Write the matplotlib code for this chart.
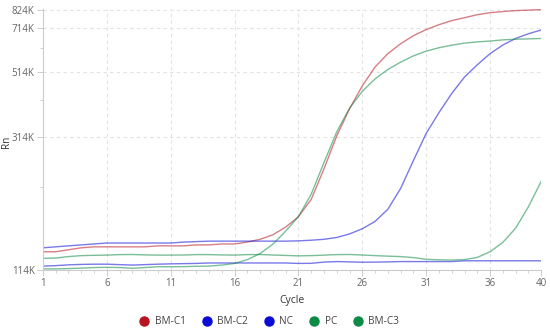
import numpy as np
import matplotlib.pyplot as plt
from matplotlib.ticker import FixedLocator, NullFormatter
from matplotlib.lines import Line2D

plt.rcParams['font.family'] = ['Open Sans', 'DejaVu Sans']

cycles = np.arange(1, 41)

# Rn values in thousands
bm_c1 = [131, 131, 133, 135, 136, 136, 136, 136, 136, 137,
         137, 137, 138, 138, 139, 139, 141, 144, 149, 158,
         171, 195, 246, 316, 388, 462, 533, 590, 636, 676,
         708, 735, 758, 775, 793, 805, 812, 818, 821, 824]
bm_c2 = [135, 136, 137, 138, 139, 140, 140, 140, 140, 140,
         140, 141, 141.5, 142, 142, 142, 142, 142, 142, 142,
         142.3, 143, 144, 146, 150, 156, 165, 181, 212, 262,
         322, 377, 436, 494, 542, 590, 630, 662, 686, 706]
nc = [117.5, 117.9, 118.6, 119, 119.2, 119.2, 118.8, 118.4, 118.8, 119.2,
      119.5, 119.7, 119.9, 120.3, 120.3, 120.3, 120.3, 120.3, 120.3, 120.3,
      119.9, 120.0, 121.1, 121.6, 121.3, 121.0, 121.1, 121.3, 121.6, 121.6,
      121.6, 121.6, 121.6, 122.3, 122.3, 122.3, 122.3, 122.3, 122.3, 122.3]
pc = [115, 115, 115.3, 115.7, 116.2, 116.4, 116.2, 115.5, 116.2, 116.9,
      116.9, 117, 117.3, 117.5, 118.4, 119.9, 123.4, 129.2, 138.8, 153.2,
      171, 203, 258, 326, 390, 443, 487, 523, 553, 580,
      601, 617, 629, 639, 645, 649, 655, 658, 660, 662]
bm_c3 = [124.6, 124.9, 126.3, 127.2, 127.5, 127.7, 128.2, 128.3, 127.9, 127.7,
         127.7, 127.8, 128.2, 128.2, 127.9, 127.7, 128.2, 128.3, 127.8, 127.4,
         127.0, 127.2, 127.7, 128.2, 128.3, 127.8, 127.2, 126.7, 126.3, 125.3,
         123.7, 123.2, 123.0, 123.4, 125.5, 131.0, 140.7, 156.7, 184.4, 223.7]

names = ['BM-C1', 'BM-C2', 'NC', 'PC', 'BM-C3']
series = [bm_c1, bm_c2, nc, pc, bm_c3]
colors = ['#b8141f', '#0b0bd8', '#0b0bd8', '#0d8a45', '#0d8a45']

y_ticks = [114, 314, 514, 714, 824]
y_minor = [214, 414, 614]
x_ticks = [1, 6, 11, 16, 21, 26, 31, 36, 40]

fig = plt.figure(figsize=(5.5, 3.33), dpi=100)
ax = fig.add_axes([0.078, 0.189, 0.906, 0.784])

for vals, c in zip(series, colors):
    ax.plot(cycles, np.array(vals) * 1000, color=c, lw=1.0, alpha=0.55)

ax.set_yscale('log')
ax.set_xlim(1, 40)
ax.set_ylim(114e3, 828e3)

ax.yaxis.set_major_locator(FixedLocator([v * 1000 for v in y_ticks]))
ax.yaxis.set_minor_locator(FixedLocator([v * 1000 for v in y_minor]))
ax.set_yticklabels([f'{v}K' for v in y_ticks])
ax.yaxis.set_minor_formatter(NullFormatter())
ax.set_xticks(x_ticks)
ax.set_xticks(cycles, minor=True)

ax.grid(True, which='major', color='#e2e2e2', linestyle=(0, (3, 3)), lw=0.8)
for s in ['top', 'right']:
    ax.spines[s].set_visible(False)
for s in ['left', 'bottom']:
    ax.spines[s].set_color('#cccccc')
    ax.spines[s].set_linewidth(0.8)

ax.tick_params(which='major', length=4, width=0.7, color='#cccccc',
               labelsize=7, labelcolor='#666666', pad=2)
ax.tick_params(which='minor', length=2.5, width=0.6, color='#cccccc')

ax.set_xlabel('Cycle', fontsize=7.5, color='#333333', labelpad=4)
ax.set_ylabel('Rn', fontsize=7.2, color='#333333')
ax.yaxis.set_label_coords(-0.062, 0.49)

handles = [Line2D([], [], marker='o', linestyle='none', color=c, markersize=6.5)
           for c in colors]
fig.legend(handles, names, loc='lower center', ncol=5, frameon=False,
           bbox_to_anchor=(0.485, -0.01), fontsize=7.2, handletextpad=0.05,
           columnspacing=1.1, labelcolor='#444444')

fig.savefig('out.png', dpi=100)
